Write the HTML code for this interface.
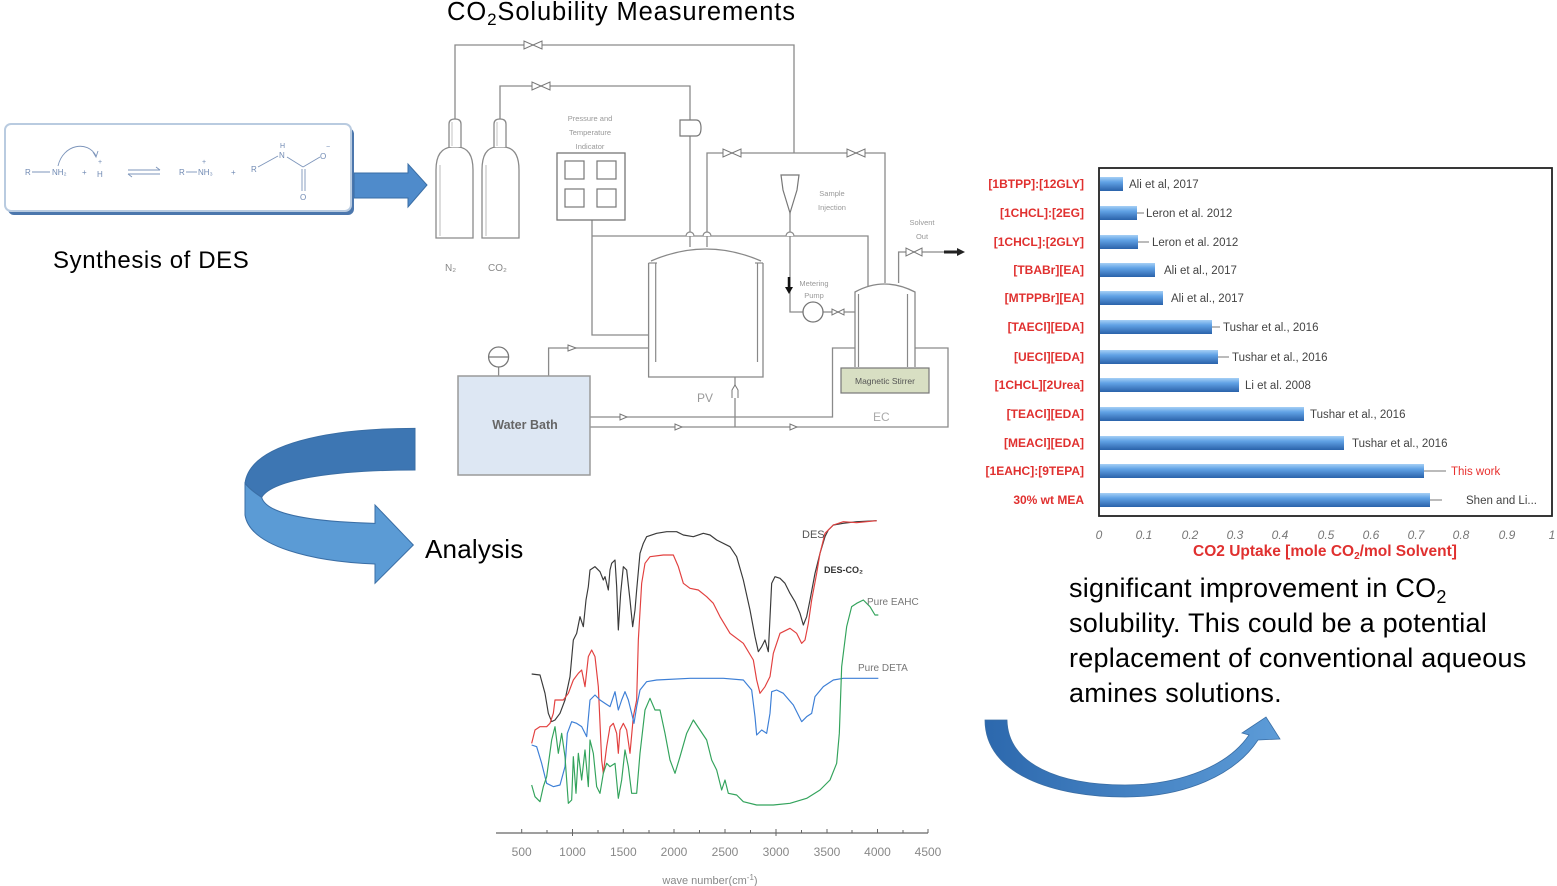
<!DOCTYPE html>
<html><head><meta charset="utf-8">
<style>
html,body{margin:0;padding:0;background:#fff;}
svg{display:block;}
text{font-family:"Liberation Sans",sans-serif;}
</style></head><body>
<svg width="1557" height="886" viewBox="0 0 1557 886" xmlns="http://www.w3.org/2000/svg">
<defs>
 <linearGradient id="bar" x1="0" y1="0" x2="0" y2="1">
  <stop offset="0" stop-color="#a6d0f5"/>
  <stop offset="0.35" stop-color="#62a3e6"/>
  <stop offset="1" stop-color="#2a62aa"/>
 </linearGradient>
 <linearGradient id="rarrow" x1="0" y1="0" x2="1" y2="0">
  <stop offset="0" stop-color="#2c68ad"/>
  <stop offset="1" stop-color="#5d9cd8"/>
 </linearGradient>
</defs>

<!-- ============ Reaction box ============ -->
<rect x="8" y="128" width="346" height="87" rx="6" fill="#4c77ad"/>
<rect x="5" y="124" width="346" height="87" rx="6" fill="#fff" stroke="#b9cbe0" stroke-width="2"/>
<g fill="#6f89b3" font-size="8" stroke="none">
 <text x="25" y="175">R</text>
 <text x="52" y="175">NH₂</text>
 <text x="82" y="175">+</text>
 <text x="97" y="177">H</text>
 <text x="98" y="164" font-size="7">+</text>
 <text x="179" y="175">R</text>
 <text x="198" y="175">NH₃</text>
 <text x="202" y="164" font-size="7">+</text>
 <text x="231" y="175">+</text>
 <text x="251" y="172">R</text>
 <text x="279" y="158">N</text>
 <text x="280" y="148" font-size="7">H</text>
 <text x="320" y="159">O</text>
 <text x="326" y="149" font-size="7">−</text>
 <text x="300" y="200">O</text>
</g>
<g stroke="#7d95bb" stroke-width="0.9" fill="none">
 <line x1="32" y1="172" x2="50" y2="172"/>
 <line x1="186" y1="172" x2="197" y2="172"/>
 <path d="M58,166 C63,144 88,140 96,156"/>
 <path d="M93,152 L96,157 L98,151"/>
 <line x1="128" y1="170" x2="160" y2="170"/>
 <path d="M156,167 L160,170"/>
 <line x1="128" y1="174" x2="160" y2="174"/>
 <path d="M132,177 L128,174"/>
 <line x1="258" y1="167" x2="278" y2="156"/>
 <line x1="287" y1="157" x2="303" y2="167"/>
 <line x1="303" y1="167" x2="320" y2="157"/>
 <line x1="302" y1="169" x2="302" y2="191"/>
 <line x1="305" y1="169" x2="305" y2="191"/>
</g>

<!-- straight arrow -->
<polygon points="354,173 408,173 408,164 427,185 408,207 408,198 354,198" fill="#4f8bcb" stroke="#3a6ea5" stroke-width="1"/>

<text x="53" y="268" font-size="24" letter-spacing="0.6" fill="#000">Synthesis of DES</text>

<!-- ============ Title ============ -->
<text x="447" y="20" font-size="25.5" letter-spacing="0.9" fill="#000">CO<tspan dy="5" font-size="17">2</tspan><tspan dy="-5">Solubility Measurements</tspan></text>

<!-- ============ Apparatus ============ -->
<g stroke="#8a8a8a" stroke-width="1.3" fill="none">
 <path d="M455,119 V45 H794 V153"/>
 <path d="M500,119 V86 H690 V120"/>
 <path d="M690,136 V247"/>
 <path d="M592,220 V335 H648"/>
 <path d="M592,236 H868 V287"/>
 <path d="M707,247 V153 H885 V283"/>
 <path d="M790,213 V312 H803"/>
 <path d="M823,312 H857"/>
 <path d="M898.6,283 V252 H946"/>
 <path d="M735,377 V427"/>
 <path d="M548.6,376 V348 H648.6"/>
 <path d="M590,417 H832.5 V348 H948 V427 H590"/>
 <line x1="498.6" y1="367" x2="498.6" y2="376"/>
</g>
<g stroke="#8a8a8a" stroke-width="1.2" fill="#fff">
 <path d="M686,236 A4,4 0 0 1 694,236"/>
 <path d="M703,236 A4,4 0 0 1 711,236"/>
 <path d="M786,236 A4,4 0 0 1 794,236"/>
</g>

<!-- cylinders -->
<g stroke="#8a8a8a" stroke-width="1.3" fill="#fff">
 <path d="M436,238 V170 Q436,148 452,147 H458 Q473,148 473,170 V238 Z"/>
 <path d="M449,147 V124 Q449,119 455,119 Q461,119 461,124 V147"/>
 <path d="M482,238 V170 Q482,148 496,147 H504 Q519,148 519,170 V238 Z"/>
 <path d="M494,147 V124 Q494,119 500,119 Q506,119 506,124 V147"/>
</g>
<line x1="440" y1="165" x2="440" y2="236" stroke="#aaa" stroke-width="0.8"/>
<line x1="486" y1="165" x2="486" y2="236" stroke="#aaa" stroke-width="0.8"/>
<line x1="452" y1="122" x2="452" y2="146" stroke="#aaa" stroke-width="0.7"/>
<line x1="497" y1="122" x2="497" y2="146" stroke="#aaa" stroke-width="0.7"/>
<text x="445" y="271" font-size="10" fill="#888">N₂</text>
<text x="488" y="271" font-size="10" fill="#888">CO₂</text>

<!-- valves -->
<g stroke="#777" stroke-width="1" fill="#fff">
 <polygon points="524,41 524,49 533,45"/><polygon points="542,41 542,49 533,45"/>
 <polygon points="532,82 532,90 541,86"/><polygon points="550,82 550,90 541,86"/>
 <polygon points="723,149 723,157 732,153"/><polygon points="741,149 741,157 732,153"/>
 <polygon points="847,149 847,157 856,153"/><polygon points="865,149 865,157 856,153"/>
 <polygon points="906,248 906,256 914,252"/><polygon points="922,248 922,256 914,252"/>
 <polygon points="832,309 832,315 838,312"/><polygon points="844,309 844,315 838,312"/>
 <polygon points="620,414 620,420 627,417"/><polygon points="675,424 675,430 682,427"/>
 <polygon points="790,424 790,430 797,427"/><polygon points="568,345 568,351 576,348"/>
</g>
<path d="M680,120 H696 Q701,120 701,128 Q701,136 696,136 H680 Z" fill="#fff" stroke="#777" stroke-width="1.2"/>
<line x1="944" y1="252" x2="959" y2="252" stroke="#222" stroke-width="3"/>
<polygon points="957,248 965,252 957,256" fill="#222"/>

<!-- PT indicator -->
<rect x="557" y="153" width="68" height="67" fill="#fff" stroke="#777" stroke-width="1.3"/>
<g fill="none" stroke="#777" stroke-width="1.2">
 <rect x="565" y="161" width="19" height="18"/><rect x="597" y="161" width="19" height="18"/>
 <rect x="565" y="189" width="19" height="18"/><rect x="597" y="189" width="19" height="18"/>
</g>
<g font-size="7.5" fill="#999" text-anchor="middle">
 <text x="590" y="121">Pressure and</text>
 <text x="590" y="135">Temperature</text>
 <text x="590" y="149">Indicator</text>
 <text x="832" y="196">Sample</text>
 <text x="832" y="210">Injection</text>
 <text x="814" y="286">Metering</text>
 <text x="814" y="298">Pump</text>
 <text x="922" y="225">Solvent</text>
 <text x="922" y="239">Out</text>
</g>

<path d="M781,175 H799 L797,190 L790,213 L783,190 Z" fill="#fff" stroke="#777" stroke-width="1.2"/>
<line x1="789" y1="277" x2="789" y2="289" stroke="#111" stroke-width="2.5"/>
<polygon points="785,287 793,287 789,294" fill="#111"/>
<circle cx="813" cy="312" r="10" fill="#fff" stroke="#777" stroke-width="1.3"/>

<!-- PV -->
<path d="M648.6,263 V377 H763 V263" fill="#fff" stroke="#888" stroke-width="1.3"/>
<path d="M651,261 Q706,237 761,261" fill="none" stroke="#888" stroke-width="1.3"/>
<line x1="648.6" y1="263" x2="657" y2="263" stroke="#888" stroke-width="1.2"/>
<line x1="755" y1="263" x2="763" y2="263" stroke="#888" stroke-width="1.2"/>
<line x1="655.7" y1="263" x2="655.7" y2="362" stroke="#888" stroke-width="1.2"/>
<line x1="757.5" y1="263" x2="757.5" y2="362" stroke="#888" stroke-width="1.2"/>
<text x="697" y="402" font-size="12" fill="#999">PV</text>
<path d="M732,398 V390 L735,385 L738,390 V398" fill="#fff" stroke="#777" stroke-width="1"/>

<!-- EC -->
<path d="M855,367 V292 Q884,276 915,292 V367" fill="#fff" stroke="#888" stroke-width="1.3"/>
<line x1="858.5" y1="294" x2="858.5" y2="367" stroke="#888" stroke-width="1.2"/>
<line x1="907.5" y1="294" x2="907.5" y2="367" stroke="#888" stroke-width="1.2"/>
<rect x="841" y="368" width="88" height="25" fill="#d8dfc3" stroke="#777" stroke-width="1.2"/>
<text x="885" y="384" font-size="8.5" fill="#555" text-anchor="middle">Magnetic Stirrer</text>
<text x="873" y="421" font-size="12" fill="#aaa">EC</text>

<!-- Water bath -->
<rect x="458" y="376" width="132" height="99" fill="#dde7f3" stroke="#9a9a9a" stroke-width="1.5"/>
<text x="525" y="429" font-size="12.5" fill="#666" text-anchor="middle" font-weight="bold">Water Bath</text>
<circle cx="498.6" cy="357" r="10" fill="#fff" stroke="#777" stroke-width="1.3"/>
<line x1="489" y1="357" x2="508" y2="357" stroke="#777" stroke-width="1.3"/>

<!-- ============ Left curved arrow ============ -->
<g transform="translate(230,420) scale(0.33333)" stroke="#3a6ea5" stroke-width="3">
 <path d="M555,25 C300,25 60,70 45,190 C60,210 80,222 95,232 C130,175 330,150 555,150 Z" fill="#3d76b3"/>
 <path d="M45,190 L45,285 C60,380 250,425 435,432 L435,490 L550,375 L435,255 L435,310 C250,305 110,285 95,232 C80,222 60,210 45,190 Z" fill="#5b9bd5"/>
</g>
<text x="425" y="558" font-size="26" letter-spacing="0.2" fill="#000">Analysis</text>

<!-- ============ Bar chart ============ -->
<rect x="1099" y="168" width="453" height="348" fill="#fff" stroke="#222" stroke-width="1.8"/>
<g fill="url(#bar)">
 <rect x="1100" y="177" width="23" height="14"/>
 <rect x="1100" y="206" width="37" height="14"/>
 <rect x="1100" y="235" width="38" height="14"/>
 <rect x="1100" y="263" width="55" height="14"/>
 <rect x="1100" y="291" width="63" height="14"/>
 <rect x="1100" y="320" width="112" height="14"/>
 <rect x="1100" y="350" width="118" height="14"/>
 <rect x="1100" y="378" width="139" height="14"/>
 <rect x="1100" y="407" width="204" height="14"/>
 <rect x="1100" y="436" width="244" height="14"/>
 <rect x="1100" y="464" width="324" height="14"/>
 <rect x="1100" y="493" width="330" height="14"/>
</g>
<g stroke="#777" stroke-width="1">
 <line x1="1137" y1="213" x2="1144" y2="213"/>
 <line x1="1138" y1="242" x2="1149" y2="242"/>
 <line x1="1212" y1="327" x2="1220" y2="327"/>
 <line x1="1218" y1="357" x2="1229" y2="357"/>
 <line x1="1424" y1="471" x2="1446" y2="471"/>
 <line x1="1430" y1="500" x2="1442" y2="500"/>
</g>
<g font-size="11.5" fill="#444">
 <text x="1129" y="188">Ali et al, 2017</text>
 <text x="1146" y="217">Leron et al. 2012</text>
 <text x="1152" y="246">Leron et al. 2012</text>
 <text x="1164" y="274">Ali et al., 2017</text>
 <text x="1171" y="302">Ali et al., 2017</text>
 <text x="1223" y="331">Tushar et al., 2016</text>
 <text x="1232" y="361">Tushar et al., 2016</text>
 <text x="1245" y="389">Li et al. 2008</text>
 <text x="1310" y="418">Tushar et al., 2016</text>
 <text x="1352" y="447">Tushar et al., 2016</text>
 <text x="1451" y="475" fill="#e8302e">This work</text>
 <text x="1466" y="504">Shen and Li...</text>
</g>
<g font-size="12" font-weight="bold" fill="#e0302f" text-anchor="end">
 <text x="1084" y="188">[1BTPP]:[12GLY]</text>
 <text x="1084" y="217">[1CHCL]:[2EG]</text>
 <text x="1084" y="246">[1CHCL]:[2GLY]</text>
 <text x="1084" y="274">[TBABr][EA]</text>
 <text x="1084" y="302">[MTPPBr][EA]</text>
 <text x="1084" y="331">[TAECl][EDA]</text>
 <text x="1084" y="361">[UECl][EDA]</text>
 <text x="1084" y="389">[1CHCL][2Urea]</text>
 <text x="1084" y="418">[TEACl][EDA]</text>
 <text x="1084" y="447">[MEACl][EDA]</text>
 <text x="1084" y="475">[1EAHC]:[9TEPA]</text>
 <text x="1084" y="504">30% wt MEA</text>
</g>
<g font-size="12" font-style="italic" fill="#777" text-anchor="middle">
 <text x="1099" y="539">0</text>
 <text x="1144" y="539">0.1</text>
 <text x="1190" y="539">0.2</text>
 <text x="1235" y="539">0.3</text>
 <text x="1280" y="539">0.4</text>
 <text x="1326" y="539">0.5</text>
 <text x="1371" y="539">0.6</text>
 <text x="1416" y="539">0.7</text>
 <text x="1461" y="539">0.8</text>
 <text x="1507" y="539">0.9</text>
 <text x="1552" y="539">1</text>
</g>
<text x="1325" y="556" font-size="15.5" font-weight="bold" fill="#e0302f" text-anchor="middle">CO2 Uptake [mole CO<tspan font-size="10" dy="3">2</tspan><tspan dy="-3">/mol Solvent]</tspan></text>

<!-- ============ Spectrum ============ -->
<g transform="translate(490,500) scale(0.33333)" fill="none" stroke-width="3.5" stroke-linejoin="round">
 <polyline stroke="#3a3a3a" points="125,522 150,525 165,580 175,640 185,665 195,660 210,640 225,600 240,530 250,420 260,400 270,350 280,380 288,300 295,260 300,210 315,200 330,215 340,240 345,230 355,270 360,210 365,190 375,180 380,260 385,390 392,280 400,200 410,210 420,300 428,380 435,330 440,270 450,160 460,130 470,110 500,100 530,95 560,95 580,105 610,110 640,100 660,105 680,120 720,140 740,170 760,240 780,330 795,410 805,455 815,440 825,420 835,455 845,250 855,230 870,235 885,250 900,280 915,305 930,340 940,375 950,350 960,300 975,220 990,160 1005,110 1015,90 1030,75 1060,70 1100,65 1160,62"/>
 <polyline stroke="#e2403f" points="125,730 135,690 150,680 170,680 180,670 190,640 195,600 220,600 235,580 250,540 265,520 275,510 285,560 295,470 305,450 315,470 325,560 335,780 340,820 350,740 360,680 370,670 380,700 385,760 390,690 400,670 410,690 420,760 430,650 440,600 445,420 455,250 465,190 480,170 520,165 550,165 565,200 580,250 600,265 625,270 650,290 670,310 690,350 720,400 760,430 790,480 800,540 810,580 825,560 840,530 850,460 870,400 900,385 920,400 935,430 945,420 955,370 965,300 980,220 990,160 1005,100 1030,75 1060,65 1100,68 1160,62"/>
 <polyline stroke="#3d7fd6" points="125,735 140,740 155,790 170,850 190,860 210,855 225,800 232,700 245,665 260,670 275,680 290,710 300,600 315,585 330,600 345,610 360,620 375,575 385,630 395,600 405,575 415,600 425,640 432,670 440,620 450,570 470,545 500,540 600,535 700,535 760,540 785,570 795,650 800,705 815,690 830,700 840,640 845,575 860,570 880,580 910,615 935,665 950,650 965,640 975,590 1000,560 1030,540 1060,535 1165,535"/>
 <polyline stroke="#33a35c" points="125,855 135,890 150,905 160,860 170,830 185,720 195,680 205,760 215,700 225,770 235,910 245,900 250,770 258,880 265,760 275,840 285,750 295,860 300,720 310,760 320,860 330,880 340,820 350,790 360,800 375,790 385,895 395,840 405,750 415,800 425,880 440,880 450,760 465,630 480,595 495,630 510,630 525,700 540,780 555,820 570,770 590,700 610,660 630,690 650,720 665,780 680,810 695,870 705,840 715,880 740,885 760,905 800,915 850,915 900,910 950,895 990,870 1020,840 1040,790 1048,700 1055,500 1070,380 1085,320 1100,310 1120,300 1140,320 1155,345 1165,345"/>
</g>
<text x="802" y="538" font-size="11" fill="#555">DES</text>
<text x="824" y="573" font-size="9" font-weight="bold" fill="#333">DES-CO₂</text>
<text x="867" y="605" font-size="10" fill="#777">Pure EAHC</text>
<text x="858" y="671" font-size="10" fill="#777">Pure DETA</text>
<line x1="496" y1="833" x2="928" y2="833" stroke="#666" stroke-width="1.3"/>
<g stroke="#666" stroke-width="1">
 <line x1="521.7" y1="829" x2="521.7" y2="833"/><line x1="547" y1="830" x2="547" y2="833"/>
 <line x1="572.5" y1="829" x2="572.5" y2="836"/><line x1="598" y1="830" x2="598" y2="833"/>
 <line x1="623.3" y1="829" x2="623.3" y2="833"/><line x1="649" y1="830" x2="649" y2="833"/>
 <line x1="674" y1="829" x2="674" y2="833"/><line x1="699.5" y1="830" x2="699.5" y2="833"/>
 <line x1="725" y1="829" x2="725" y2="833"/><line x1="750.5" y1="830" x2="750.5" y2="833"/>
 <line x1="776" y1="829" x2="776" y2="836"/><line x1="801.5" y1="830" x2="801.5" y2="833"/>
 <line x1="827" y1="829" x2="827" y2="833"/><line x1="852" y1="830" x2="852" y2="833"/>
 <line x1="877.5" y1="829" x2="877.5" y2="833"/><line x1="903" y1="830" x2="903" y2="833"/>
 <line x1="928" y1="829" x2="928" y2="833"/>
</g>
<g font-size="12" fill="#888" text-anchor="middle">
 <text x="521.7" y="856">500</text>
 <text x="572.5" y="856">1000</text>
 <text x="623.3" y="856">1500</text>
 <text x="674" y="856">2000</text>
 <text x="725" y="856">2500</text>
 <text x="776" y="856">3000</text>
 <text x="827" y="856">3500</text>
 <text x="877.5" y="856">4000</text>
 <text x="928" y="856">4500</text>
</g>
<text x="710" y="884" font-size="11" fill="#888" text-anchor="middle">wave number(cm<tspan font-size="8" dy="-4">-1</tspan><tspan dy="4">)</tspan></text>

<!-- ============ Right curved arrow ============ -->
<path d="M985,720 C985,775 1055,797 1125,797 C1185,797 1235,775 1258,740 L1280,739 L1266,717 L1242,733 L1249,735 C1228,766 1180,785 1125,785 C1060,785 1008,765 1007,720 Z" fill="url(#rarrow)" stroke="#3a6ea5" stroke-width="0.8"/>

<!-- ============ Conclusion text ============ -->
<g font-size="27" letter-spacing="0.25" fill="#000">
 <text x="1069" y="597">significant improvement in CO<tspan font-size="18" dy="6">2</tspan></text>
 <text x="1069" y="632">solubility. This could be a potential</text>
 <text x="1069" y="667">replacement of conventional aqueous</text>
 <text x="1069" y="702">amines solutions.</text>
</g>
</svg>
</body></html>
